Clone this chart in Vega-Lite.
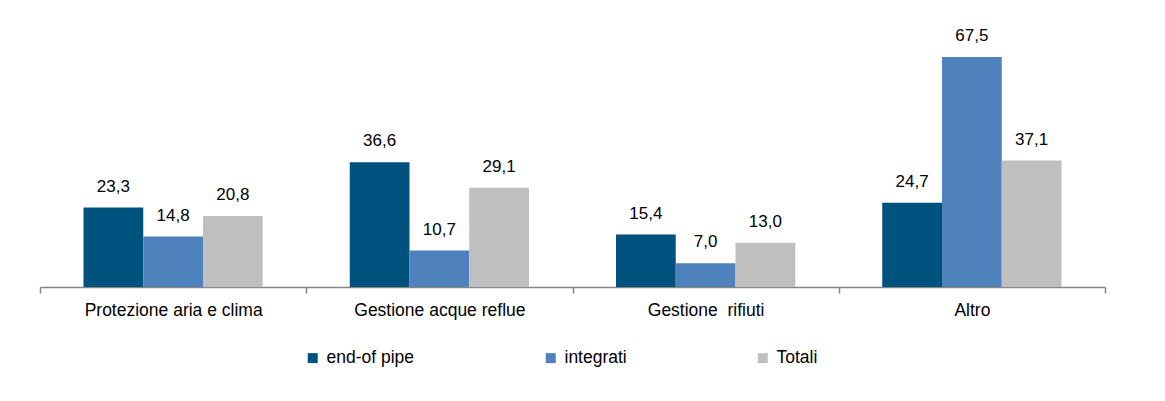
{
  "$schema": "https://vega.github.io/schema/vega-lite/v6.json",
  "autosize": "none",
  "width": 1065,
  "height": 256,
  "padding": {"left": 40, "top": 31, "right": 60, "bottom": 114},
  "background": "white",
  "config": {
    "view": {"stroke": null},
    "font": "Liberation Sans",
    "locale": {"number": {"decimal": ",", "thousands": ".", "grouping": [3], "currency": ["", " €"]}}
  },
  "data": {
    "values": [
      {"categoria": "Protezione aria e clima", "tipo": "end-of pipe", "valore": 23.3},
      {"categoria": "Protezione aria e clima", "tipo": "integrati", "valore": 14.8},
      {"categoria": "Protezione aria e clima", "tipo": "Totali", "valore": 20.8},
      {"categoria": "Gestione acque reflue", "tipo": "end-of pipe", "valore": 36.6},
      {"categoria": "Gestione acque reflue", "tipo": "integrati", "valore": 10.7},
      {"categoria": "Gestione acque reflue", "tipo": "Totali", "valore": 29.1},
      {"categoria": "Gestione\u00a0 rifiuti", "tipo": "end-of pipe", "valore": 15.4},
      {"categoria": "Gestione\u00a0 rifiuti", "tipo": "integrati", "valore": 7.0},
      {"categoria": "Gestione\u00a0 rifiuti", "tipo": "Totali", "valore": 13.0},
      {"categoria": "Altro", "tipo": "end-of pipe", "valore": 24.7},
      {"categoria": "Altro", "tipo": "integrati", "valore": 67.5},
      {"categoria": "Altro", "tipo": "Totali", "valore": 37.1}
    ]
  },
  "encoding": {
    "x": {
      "field": "categoria",
      "type": "nominal",
      "sort": null,
      "scale": {"paddingInner": 0, "paddingOuter": 0},
      "axis": {
        "title": null,
        "labelAngle": 0,
        "labelFontSize": 17.5,
        "labelColor": "#000000",
        "labelPadding": 8,
        "tickBand": "extent",
        "tickSize": 6,
        "tickColor": "#868686",
        "tickWidth": 1.5,
        "domainColor": "#868686",
        "domainWidth": 1.5,
        "labelLimit": 300
      }
    },
    "xOffset": {
      "field": "tipo",
      "type": "nominal",
      "sort": ["end-of pipe", "integrati", "Totali"],
      "scale": {"paddingInner": 0, "paddingOuter": 0.728}
    },
    "y": {
      "field": "valore",
      "type": "quantitative",
      "scale": {"domain": [0, 75.1], "nice": false, "zero": true},
      "axis": null
    }
  },
  "layer": [
    {
      "mark": {"type": "bar"},
      "encoding": {
        "color": {
          "field": "tipo",
          "type": "nominal",
          "sort": ["end-of pipe", "integrati", "Totali"],
          "scale": {
            "domain": ["end-of pipe", "integrati", "Totali"],
            "range": ["#00527E", "#4F81BD", "#BFBFBF"]
          },
          "legend": {
            "title": null,
            "orient": "none",
            "direction": "horizontal",
            "legendX": 264,
            "legendY": 318,
            "symbolType": "square",
            "symbolSize": 100,
            "symbolStrokeWidth": 0,
            "symbolOffset": 0,
            "labelFontSize": 17.5,
            "labelColor": "#000000",
            "labelOffset": 5,
            "columnPadding": 127,
            "labelLimit": 300
          }
        }
      }
    },
    {
      "mark": {"type": "text", "baseline": "alphabetic", "dy": -16, "fontSize": 17, "color": "#000000"},
      "encoding": {
        "text": {"field": "valore", "type": "quantitative", "format": ".1f"}
      }
    }
  ]
}
